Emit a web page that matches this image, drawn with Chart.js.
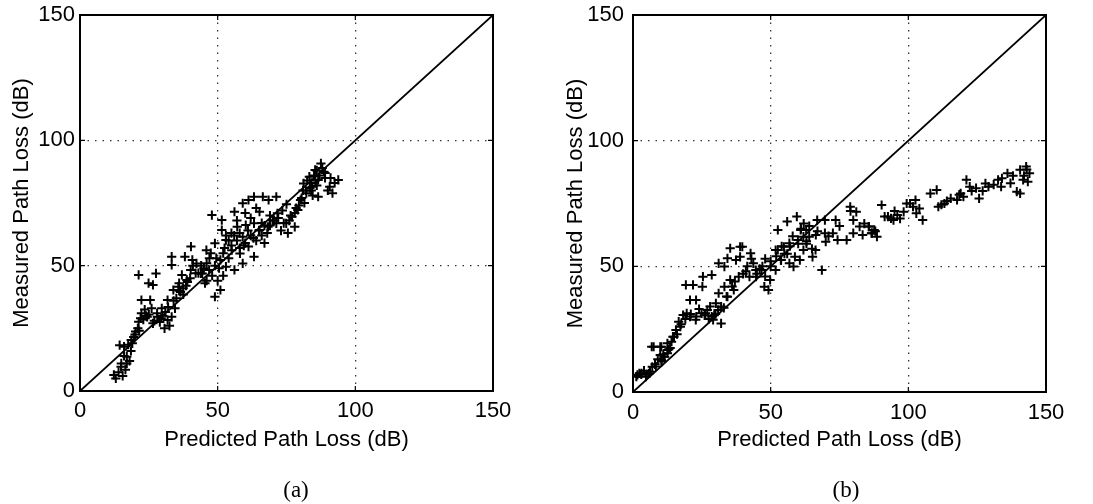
<!DOCTYPE html>
<html><head><meta charset="utf-8">
<script src="https://cdn.jsdelivr.net/npm/chart.js@4.4.1/dist/chart.umd.min.js"></script>
<style>
html,body{margin:0;padding:0;background:#fff;}
#wrap{position:relative;width:1093px;height:504px;overflow:hidden;background:#fff;}
.panel{position:absolute;top:0;height:504px;}
.cap{position:absolute;font-family:"Liberation Serif",serif;font-size:23px;color:#000;transform:translateX(-50%);line-height:26px;}
</style></head><body>
<div id="wrap">
<div class="panel" style="left:0;width:546px"><canvas id="ca" width="546" height="504"></canvas></div>
<div class="panel" style="left:546px;width:547px"><canvas id="cb" width="547" height="504"></canvas></div>
<div class="cap" style="left:296px;top:477px">(a)</div>
<div class="cap" style="left:846px;top:477px">(b)</div>
</div>
<script>
// ---- data ----
const axisTicks = [0, 50, 100, 150];
const xTitle = 'Predicted Path Loss (dB)';
const yTitle = 'Measured Path Loss (dB)';
const captions = ['(a)', '(b)'];
const diagonalX = [0, 150];
const diagonalY = [0, 150];

const predictedA = [12.3,13,14,14.9,15.5,16.5,17,17,18,14.4,16,17.5,18.6,19.5,20.2,21,21.3,22,22.3,22.3,25.5,21.3,27.6,24.9,26.5,24.4,26.5,28.1,30.7,31.8,33.3,29.7,31.8,33.9,36,37,33.3,33.3,38.1,40.2,42.3,44.4,45.4,23.5,25,27,29,30,32.5,34.5,35,36.5,35.7,38.8,37.5,39,
40.3,40.8,45.9,49,53,55.1,58.1,61.2,63.2,59.1,51,53,46.9,43.9,51,49,50,48,56.1,59.1,47.9,51.5,51.5,56.1,59.1,61.2,63.2,65.2,57.1,60.2,63.2,65.2,68.3,71.3,71.3,47,49,52,54,55,57,58,60,62,64,66,67,44,42,46,52,53,55,57,60,62,64,66,68,69,
87.5,85.4,83.3,81.2,84.3,86.5,88.6,90.7,93.8,91.7,82.2,80.1,79.1,86.5,77,78,74.9,71.7,68.5,66.4,73,75.5,76,78,79.5,81,82.5,84,85,86,88,89,84.5,92.5,90,73.5,75,70,
15,16,18.5,19,20,21.5,23,24,26,28,29.5,31,32,34,36,37.5,38.5,40,41,43,45,46,47.5,49.5,50.5,52.5,54,56,58,59.5,61,63,65,67,69,70.5,72,74,76.5,78.5,80.5,82,83.5,85.5,87,89,91,86,84,81.5];
const measuredA = [6.4,5,7.5,9.7,6,8.5,11,13.7,12,18.3,17.7,18.5,20.3,21.5,23.7,25,27.6,29,31,36.3,36.3,46.3,46.9,43,42.3,29.6,27,29.6,25,28.3,29.6,33,36.3,40.3,43,46.3,53.6,50.3,53.6,48.3,50.9,46.9,43,32.5,30.5,28,27.5,30,26,33,37,39.5,41.6,44.3,41,43.5,
57.6,52.3,56.2,58.9,60.2,56.2,54.9,57.6,53.6,61.5,52.3,49.6,48.3,46.9,40.3,37.6,44,46,48.3,50.9,70.2,68.2,64.2,71.5,74.9,76.2,77.5,71.5,65.5,66.2,66.9,64.2,65.5,66.9,77.5,53,50,55,53,58,60,57,59,62,60,62,59,50,47,44,46,62,63,68,71,69,73,67,63,70,
90.8,88.2,85.5,82.8,81.5,84.2,87.5,81.5,84.2,78.9,78.9,76.2,72.2,77.5,69.5,65.5,66.9,70.9,76.2,77.5,64,63,68,71,74,80,84,83,86,88,89,85,78,83,80,72,74.5,68,
11,14,16,19,22.5,24,28.5,30,33,31,29,31.5,33.5,36,40,38.5,42,45,50,47,49,51,55,53,49,57,60,62,63,58,64,61,64,66,66,68,69,67,70,73,77,80,81,84,86,87,85,82,80,75];

const predictedB = [1.2,1.6,2.3,3.1,4.7,5.8,6.2,8.3,10.3,10.4,9.9,12.5,12.6,6.8,7.5,9.9,10.3,12.5,14.5,14.9,15.6,16.6,17.2,18.2,19.5,20.7,20.7,22.9,19.2,21.8,25.2,25.4,28.6,22.8,24.9,26.3,27,28.6,29.1,32,30.1,30.9,31.1,33.2,34.3,35.3,36.6,38.4,31.1,33.2,34.3,35.3,37.4,38.9,38.9,11.5,13.5,7,4,28,29.5,33,
39.7,42.3,42.7,43.7,44.6,44.7,46.7,47.7,49.2,49.8,51.8,51.8,52.6,53.7,53.8,56.8,58.3,58.8,60.6,61.9,65.2,66.3,68.6,52.6,56,59.5,54.8,56.8,59.9,61.9,60.9,62.9,64,66.4,66.9,69.7,69.7,70,74.3,47,50,55,57,63,64,62,45,48,41,
78.9,81.1,80,82.3,85.7,86.8,83.4,80,77.6,72.6,73.6,88.6,86.6,85.6,87.6,90.3,91.4,93.7,96,98.3,99.4,101.7,102.9,105.2,100.6,102.6,92.6,94.6,110.3,110.9,113.1,115.4,117.7,120,121.1,122.3,124.6,125.7,129.1,132.6,133.7,136,137.1,139.4,140.6,140.6,142.8,144,141.7,143.4,142,143,127,131,118.5,112,
3,5,8,9,11,13,14,16,17.5,19,21,23,24,26,27.5,30,32,34,36,37,40,41.5,43,46,48,50,52,54,56,58,60,61,63,65,67,71,75,79,84,88,95,97,104,108,114,119,123,128,134,138];
const measuredB = [6.1,6.8,7.4,7.4,6.1,7.4,8.1,10.1,12.7,12.1,14.7,15.4,16.7,18,18,18,18,19.4,22,22,24.7,28,26,30.6,31.3,30,36.6,36.6,42.6,42.6,41.9,45.9,46.6,28.7,31.3,31.3,32.6,30,28.7,27.3,35.3,32.6,39.3,41.9,37.9,44.6,40.6,45.9,51.2,49.9,53.2,57.2,52.5,53.8,57.8,14,17.5,10,8.5,34,30.5,33.5,
57.8,45.9,55.2,51.2,48.5,45.9,48.5,41.9,40.6,44.6,48.5,56.5,56.5,52.5,52.5,51.2,49.9,53.8,52.5,56.5,53.8,56.5,48.5,64.5,67.8,69.8,57.8,59.2,60.5,61.8,64.5,64.5,61.8,62.5,68.4,68.4,63.2,59.8,60.5,50,52,55,58,59,66,67,47,53,48,
73.7,71.7,68.4,65.8,65.8,63.2,62.5,63.2,60.5,63.2,68.4,61.8,63.2,65.8,64.5,74.4,69.8,69.1,70.4,71.7,75,73.7,71.1,68.4,75,76.4,69.8,68.4,80.4,73.7,75,77,76.4,77.7,84.4,81.7,81.1,77,81.7,84.4,81.7,87,83.1,79.7,79,88.4,89.7,87,84.4,83.7,86,88.5,80,82.5,78.5,74.5,
7,7,11,13,15,17,20,23,27,29,31,30,33,30.5,29,31,34,38,42,44,47,50,53,49,46,50,54,58,55,62,59,65,60,57,64,62,66,72,67,64,72,69,73,79,76,79,80,83,85,86];

// ---- drawing ----
const SANS = '"Liberation Sans", Arial, Helvetica, sans-serif';

const framePlugin = {
  id: 'frame',
  afterDraw(chart) {
    const {ctx, chartArea: a} = chart;
    ctx.save();
    ctx.strokeStyle = '#000';
    ctx.lineWidth = 2;
    ctx.strokeRect(a.left, a.top, a.right - a.left, a.bottom - a.top);
    const xs = chart.scales.x, ys = chart.scales.y;
    ctx.lineWidth = 1.2;
    axisTicks.forEach(v => {
      const px = xs.getPixelForValue(v), py = ys.getPixelForValue(v);
      ctx.beginPath();
      ctx.moveTo(px, a.bottom); ctx.lineTo(px, a.bottom - 5);
      ctx.moveTo(px, a.top); ctx.lineTo(px, a.top + 5);
      ctx.moveTo(a.left, py); ctx.lineTo(a.left + 5, py);
      ctx.moveTo(a.right, py); ctx.lineTo(a.right - 5, py);
      ctx.stroke();
    });
    ctx.restore();
  }
};

function gridColor(c) {
  const v = c.tick ? c.tick.value : null;
  return (v === 0 || v === 150) ? 'rgba(0,0,0,0)' : '#333';
}

function makeChart(id, xs, ys, g) {
  const pts = xs.map((x, i) => ({x: x, y: ys[i]}));
  const diag = diagonalX.map((x, i) => ({x: x, y: diagonalY[i]}));
  new Chart(document.getElementById(id), {
    type: 'scatter',
    data: {
      datasets: [
        {type: 'line', data: diag, borderColor: '#000', borderWidth: 1.8, pointRadius: 0, fill: false},
        {data: pts, pointStyle: 'cross', pointRadius: 4.6, borderColor: '#000', backgroundColor: '#000', pointBorderWidth: 2, borderWidth: 2, showLine: false}
      ]
    },
    options: {
      responsive: false,
      animation: false,
      events: [],
      layout: {padding: {left: 0, right: g.right, top: 15, bottom: g.bottom}},
      plugins: {legend: {display: false}, tooltip: {enabled: false}},
      scales: {
        x: {
          type: 'linear', min: 0, max: 150,
          afterFit: s => { s.height = g.xh; s.paddingLeft = 0; s.paddingRight = 0; },
          afterBuildTicks: s => { s.ticks = axisTicks.map(v => ({value: v})); },
          ticks: {padding: g.xtp, color: '#000', font: {family: SANS, size: 22}, maxRotation: 0},
          grid: {drawTicks: false, color: gridColor, lineWidth: 1.3, borderDash: [1.5, 6]},
          border: {display: false, dash: [1.5, 6]},
          title: {display: true, text: xTitle, color: '#000', font: {family: SANS, size: 22}, padding: {top: 0, bottom: 0}}
        },
        y: {
          type: 'linear', min: 0, max: 150,
          afterFit: s => { s.width = g.left; s.paddingTop = 0; s.paddingBottom = 0; },
          afterBuildTicks: s => { s.ticks = axisTicks.map(v => ({value: v})); },
          ticks: {padding: g.ytp, color: '#000', font: {family: SANS, size: 22}},
          grid: {drawTicks: false, color: gridColor, lineWidth: 1.3, borderDash: [1.5, 6]},
          border: {display: false, dash: [1.5, 6]},
          title: {display: true, text: yTitle, color: '#000', font: {family: SANS, size: 22}, padding: {top: g.ytitle, bottom: 0}}
        }
      }
    },
    plugins: [framePlugin]
  });
}

makeChart('ca', predictedA, measuredA, {left: 80, right: 53, bottom: 51, xh: 62, xtp: 7, ytp: 5, ytitle: 9});
makeChart('cb', predictedB, measuredB, {left: 87, right: 47, bottom: 51, xh: 61, xtp: 8, ytp: 9, ytitle: 17});
</script>
</body></html>
